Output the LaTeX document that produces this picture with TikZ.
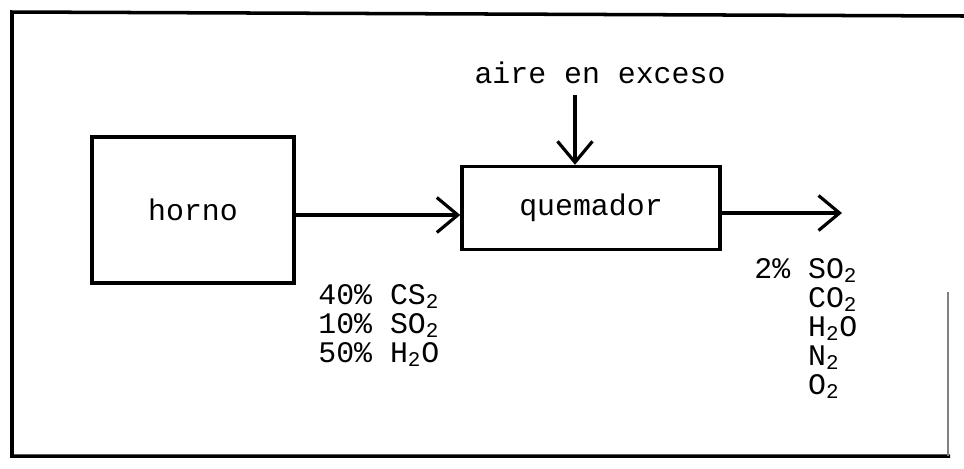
\documentclass[tikz,border=0pt]{standalone}
\usepackage{fontspec}
\setmonofont{Liberation Mono}
\usetikzlibrary{arrows.meta,positioning}
\tikzset{
  unit/.style={draw,line width=2pt,inner sep=0pt},
  stream/.style={line width=1.8pt,-{Straight Barb[length=0.42cm,width=0.7cm,line width=1.8pt]}},
  lbl/.style={font=\ttfamily\fontsize{17}{16.5}\selectfont,align=left,inner sep=0pt}
}
\begin{document}
\begin{tikzpicture}[x=0.02cm,y=-0.02cm]
  \useasboundingbox (0,0) rectangle (964,468);
  % marco
  \draw[line width=2pt] (964,16) -- (12,12) -- (12,456) -- (950,456);
  \draw[gray,line width=0.6pt] (948,456) -- (948,292);
  % equipos
  \node[unit,minimum width=4.04cm,minimum height=2.92cm,lbl] (horno) at (193,210) {horno};
  \node[unit,minimum width=5.16cm,minimum height=1.66cm,lbl] (quemador) at (591,208) {quemador};
  \node[lbl] (aire) at (600,73) {aire en exceso};
  % corrientes
  \coordinate (aireent) at (575,95);
  \coordinate (salida) at (842,213);
  \draw[stream] (horno.east |- 0,215) -- (quemador.west |- 0,215);
  \draw[stream] (aireent) -- (aireent |- quemador.north);
  \draw[stream] (quemador.east |- salida) -- (salida);
  % composiciones
  \node[lbl,anchor=north west] (alim) at (318,284)
    {40\% CS\textsubscript{2}\\10\% SO\textsubscript{2}\\50\% H\textsubscript{2}O};
  \node[lbl,anchor=north west] (gases) at (754,258)
    {2\% SO\textsubscript{2}\\\phantom{2\%~}CO\textsubscript{2}\\\phantom{2\%~}H\textsubscript{2}O\\\phantom{2\%~}N\textsubscript{2}\\\phantom{2\%~}O\textsubscript{2}};
\end{tikzpicture}
\end{document}
